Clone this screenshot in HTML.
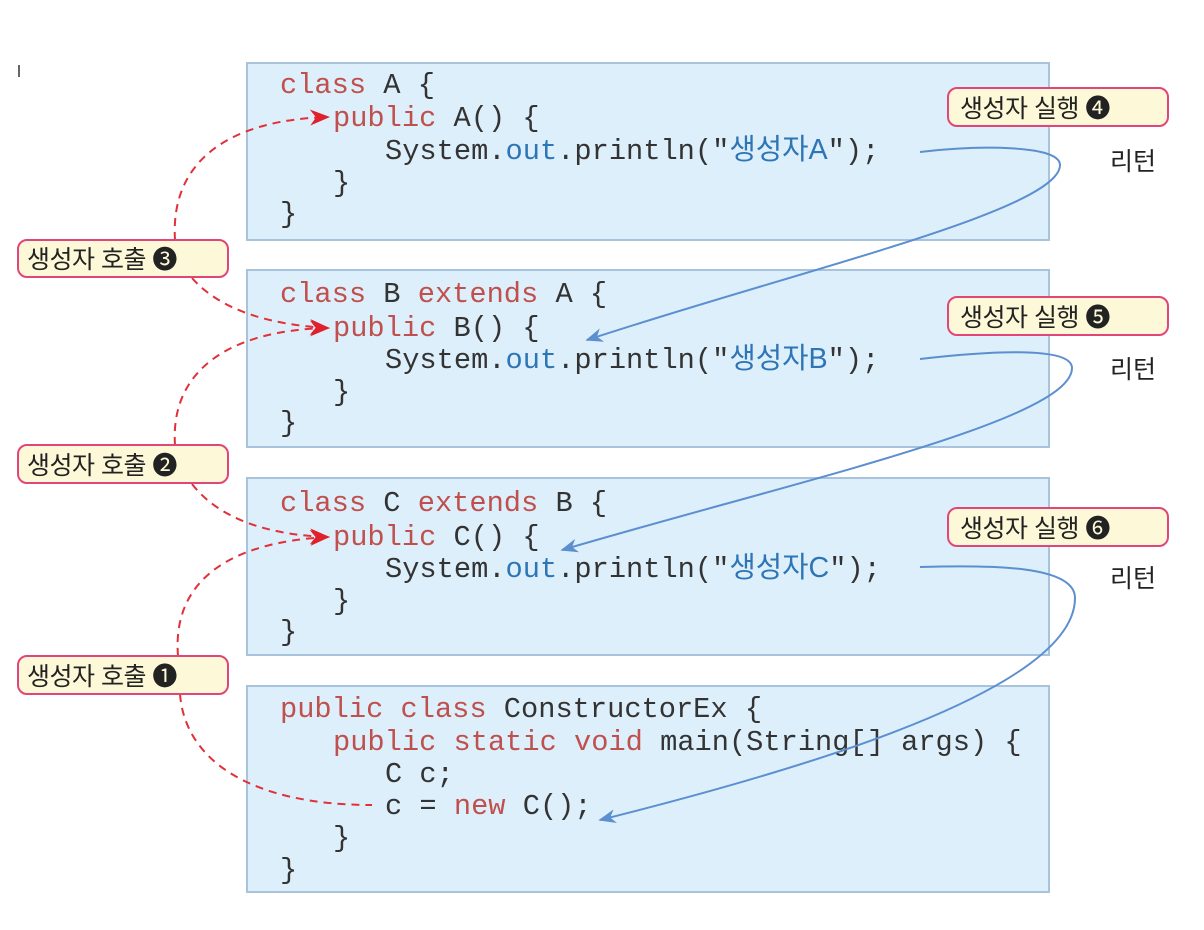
<!DOCTYPE html>
<html><head><meta charset="utf-8"><style>
body{margin:0;background:#fff;width:1204px;height:925px;overflow:hidden}
</style></head><body>
<svg width="1204" height="925" xmlns="http://www.w3.org/2000/svg">
<defs>
<marker id="r" viewBox="0 0 10 8" markerWidth="22" markerHeight="16" refX="9" refY="4" orient="auto" markerUnits="userSpaceOnUse"><path d="M0,0 L10,4 L0,8 L3,4 z" fill="#e0202a"/></marker>
<marker id="b" viewBox="0 0 10 8" markerWidth="20" markerHeight="14" refX="9" refY="4" orient="auto" markerUnits="userSpaceOnUse"><path d="M0,0 L10,4 L0,8 L3,4 z" fill="#5b8fd0"/></marker>
</defs>
<rect x="0" y="0" width="1204" height="925" fill="#fff"/>
<rect x="18" y="65" width="2" height="12" fill="#666"/>
<g fill="#ddeffb" stroke="#a8c3dc" stroke-width="2">
<rect x="247" y="63" width="802" height="177"/>
<rect x="247" y="270" width="802" height="177"/>
<rect x="247" y="478" width="802" height="177"/>
<rect x="247" y="686" width="802" height="206"/>
</g>
<g font-family="Liberation Mono, Noto Sans CJK KR, monospace" font-size="28.7" fill="#333">
<text x="280" y="93"><tspan fill="#c0504d">class</tspan> A {</text>
<text x="333" y="126"><tspan fill="#c0504d">public</tspan> A() {</text>
<text x="385" y="159">System.<tspan fill="#2e75b6">out</tspan>.println("<tspan fill="#2e75b6" font-family="Liberation Sans, Noto Sans CJK KR, sans-serif">생성자A</tspan>");</text>
<text x="333" y="191">}</text>
<text x="280" y="222">}</text>

<text x="280" y="302"><tspan fill="#c0504d">class</tspan> B <tspan fill="#c0504d">extends</tspan> A {</text>
<text x="333" y="336"><tspan fill="#c0504d">public</tspan> B() {</text>
<text x="385" y="368">System.<tspan fill="#2e75b6">out</tspan>.println("<tspan fill="#2e75b6" font-family="Liberation Sans, Noto Sans CJK KR, sans-serif">생성자B</tspan>");</text>
<text x="333" y="400">}</text>
<text x="280" y="431">}</text>

<text x="280" y="511"><tspan fill="#c0504d">class</tspan> C <tspan fill="#c0504d">extends</tspan> B {</text>
<text x="333" y="545"><tspan fill="#c0504d">public</tspan> C() {</text>
<text x="385" y="577">System.<tspan fill="#2e75b6">out</tspan>.println("<tspan fill="#2e75b6" font-family="Liberation Sans, Noto Sans CJK KR, sans-serif">생성자C</tspan>");</text>
<text x="333" y="609">}</text>
<text x="280" y="640">}</text>

<text x="280" y="717"><tspan fill="#c0504d">public class</tspan> ConstructorEx {</text>
<text x="333" y="750"><tspan fill="#c0504d">public static void</tspan> main(String[] args) {</text>
<text x="385" y="782">C c;</text>
<text x="385" y="814">c = <tspan fill="#c0504d">new</tspan> C();</text>
<text x="333" y="846">}</text>
<text x="280" y="878">}</text>
</g>
<g fill="none" stroke="#e0303a" stroke-width="2" stroke-dasharray="8,6">
<path d="M175,240 C170,160 230,120 328,117" marker-end="url(#r)"/>
<path d="M192,278 C220,310 270,325 328,328" marker-end="url(#r)"/>
<path d="M175,445 C170,370 230,330 328,328" marker-end="url(#r)"/>
<path d="M192,484 C220,520 270,535 328,537" marker-end="url(#r)"/>
<path d="M178,656 C172,580 230,542 328,537" marker-end="url(#r)"/>
<path d="M180,694 C185,760 250,805 372,805"/>
</g>
<g fill="none" stroke="#5b8fd0" stroke-width="2">
<path d="M920,152 C980,145 1060,145 1060,165 C1060,210 800,270 587,340" marker-end="url(#b)"/>
<path d="M920,359 C980,352 1072,345 1072,368 C1072,420 800,480 562,550" marker-end="url(#b)"/>
<path d="M920,567 C990,565 1075,565 1075,598 C1075,690 800,770 600,820" marker-end="url(#b)"/>
</g>
<g font-family="Liberation Sans, Noto Sans CJK KR, sans-serif" font-size="25" fill="#222">
<g stroke="#e0467a" stroke-width="2" fill="#fdf9d8">
<rect x="18" y="240" width="210" height="37" rx="9"/>
<rect x="18" y="445" width="210" height="38" rx="9"/>
<rect x="18" y="656" width="210" height="38" rx="9"/>
<rect x="948" y="88" width="220" height="38" rx="9"/>
<rect x="948" y="297" width="220" height="38" rx="9"/>
<rect x="948" y="508" width="220" height="38" rx="9"/>
</g>
<text x="27" y="268" letter-spacing="-0.5">생성자 호출 ❸</text>
<text x="27" y="474" letter-spacing="-0.5">생성자 호출 ❷</text>
<text x="27" y="685" letter-spacing="-0.5">생성자 호출 ❶</text>
<text x="960" y="117" letter-spacing="-0.5">생성자 실행 ❹</text>
<text x="960" y="326" letter-spacing="-0.5">생성자 실행 ❺</text>
<text x="960" y="537" letter-spacing="-0.5">생성자 실행 ❻</text>
<text x="1110" y="170">리턴</text>
<text x="1110" y="378">리턴</text>
<text x="1110" y="587">리턴</text>
</g>
</svg>
</body></html>
